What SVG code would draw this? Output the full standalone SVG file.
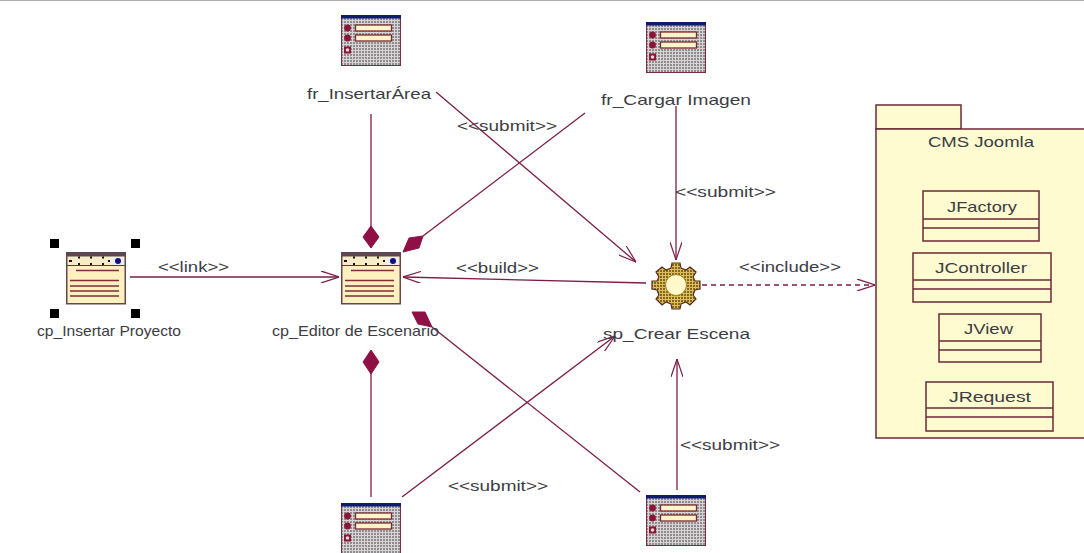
<svg xmlns="http://www.w3.org/2000/svg" width="1084" height="553" viewBox="0 0 1084 553">
<style>
text{font-family:"Liberation Sans",Arial,sans-serif;font-size:15px;fill:#3c3c44}
.c{fill:none;stroke:#7c1d45;stroke-width:1.3}
.d{stroke-dasharray:5 4}
.box{fill:#fffbd0;stroke:#6b2a35;stroke-width:1.5}
.ln{stroke:#6b2a35;stroke-width:1.5;fill:none}
.dia{fill:#8e1045;stroke:#8e1045}
.h{fill:#000}
</style>
<defs>
<pattern id="grid" width="3" height="3" patternUnits="userSpaceOnUse"><rect width="3" height="3" fill="#d8d4d4"/><rect width="2" height="2" fill="#8f8c90"/></pattern>
<pattern id="gold" width="3" height="3" patternUnits="userSpaceOnUse"><rect width="3" height="3" fill="#dcc060"/><rect width="2" height="2" fill="#86661a"/></pattern>
<marker id="open" viewBox="0 0 18 12" refX="18" refY="6" markerWidth="18" markerHeight="12" markerUnits="userSpaceOnUse" orient="auto"><path d="M0 0L18 6L0 12" fill="none" stroke="#7c1d45" stroke-width="1.2"/></marker>
<g id="form">
<rect x="0.5" y="0.5" width="59" height="50" fill="url(#grid)" stroke="#7c2a45"/>
<rect x="0" y="0" width="60" height="3.5" fill="#101a70"/>
<circle cx="6.5" cy="13" r="3.4" fill="#8a1538"/><rect x="14.500" y="10" width="36" height="6" fill="#fff4c8" stroke="#7c2a35" stroke-width="1.300"/>
<circle cx="6.500" cy="23" r="3.400" fill="#8a1538"/><rect x="14.500" y="20" width="36" height="6" fill="#fff4c8" stroke="#7c2a35" stroke-width="1.300"/>
<rect x="3" y="31.500" width="7" height="7" fill="#8a1538"/><circle cx="6.500" cy="35" r="1.800" fill="#e8d8d0"/>
</g>
<g id="page">
<rect x="0.750" y="0.750" width="58.500" height="51" fill="#fff0c0" stroke="#6b4548" stroke-width="1.500"/>
<rect x="0" y="0" width="60" height="4.500" fill="#5c4650"/>
<rect x="2" y="5" width="43" height="8" fill="#f6ecc8"/>
<rect x="45" y="5" width="13" height="8" fill="#ececf4"/>
<circle cx="52" cy="9" r="3" fill="#10107a"/>
<path d="M1 13.500H59" stroke="#7c2a35" stroke-width="1.200"/>
<path d="M3 9h3M12 5.500h2M12 12h2M24 5.500h2M24 12h2M36 5.500h2M36 12h2M42 9h2" stroke="#111" stroke-width="2"/>
<path d="M10 18.500H53M4 28.500H53M4 34H53M4 39H53M4 44H53" stroke="#7c3038" stroke-width="1.300"/>
</g>
</defs>
<rect width="1084" height="553" fill="#fff"/>
<path d="M0 0.500H1084" stroke="#b0b0b0"/>
<g id="connectors">
<path class="c" d="M371 114V228"/>
<path class="dia" d="M371 226L379 237L371 248L363 237Z"/>
<path class="c" d="M585 113L423 236"/>
<path class="dia" d="M403 252L409 238L423 236L419 248Z"/>
<path class="c" d="M371 497V372"/>
<path class="dia" d="M371 350L379 362L371 374L363 362Z"/>
<path class="c" d="M640 492L432 327"/>
<path class="dia" d="M412 312L425 312L432 327L418 324Z"/>
<path class="c" d="M130 277H339" marker-end="url(#open)"/>
<path class="c" d="M646 283L403 277" marker-end="url(#open)"/>
<path class="c" d="M436 92L636 262" marker-end="url(#open)"/>
<path class="c" d="M676 106V260" marker-end="url(#open)"/>
<path class="c" d="M402 497L615 336" marker-end="url(#open)"/>
<path class="c" d="M677 490V359" marker-end="url(#open)"/>
<path class="c d" d="M702 285H875" marker-end="url(#open)"/>
<text x="158" y="272" textLength="71" lengthAdjust="spacingAndGlyphs">&lt;&lt;link&gt;&gt;</text>
<text x="456" y="273" textLength="83" lengthAdjust="spacingAndGlyphs">&lt;&lt;build&gt;&gt;</text>
<text x="739" y="272" textLength="102" lengthAdjust="spacingAndGlyphs">&lt;&lt;include&gt;&gt;</text>
<text x="457" y="131" textLength="100" lengthAdjust="spacingAndGlyphs">&lt;&lt;submit&gt;&gt;</text>
<text x="675" y="197" textLength="101" lengthAdjust="spacingAndGlyphs">&lt;&lt;submit&gt;&gt;</text>
<text x="448" y="491" textLength="100" lengthAdjust="spacingAndGlyphs">&lt;&lt;submit&gt;&gt;</text>
<text x="680" y="450" textLength="100" lengthAdjust="spacingAndGlyphs">&lt;&lt;submit&gt;&gt;</text>
</g>
<g id="fr_InsertarArea"><use href="#form" x="341" y="15"/><text x="307" y="99" textLength="124" lengthAdjust="spacingAndGlyphs">fr_InsertarÁrea</text></g>
<g id="fr_CargarImagen"><use href="#form" x="646" y="22"/><text x="601" y="105" textLength="150" lengthAdjust="spacingAndGlyphs">fr_Cargar Imagen</text></g>
<g id="form_bottom_left"><use href="#form" x="341" y="503"/></g>
<g id="form_bottom_right"><use href="#form" x="646" y="495"/></g>
<g id="cp_InsertarProyecto">
<use href="#page" x="66" y="252"/>
<rect class="h" x="50" y="239" width="9" height="9"/><rect class="h" x="131" y="239" width="9" height="9"/>
<rect class="h" x="50" y="309" width="9" height="9"/><rect class="h" x="131" y="309" width="9" height="9"/>
<text x="37" y="336" textLength="144" lengthAdjust="spacingAndGlyphs">cp_Insertar Proyecto</text>
</g>
<g id="cp_EditorEscenario">
<use href="#page" x="341" y="252"/>
<text x="272" y="336" textLength="167" lengthAdjust="spacingAndGlyphs">cp_Editor de Escenario</text>
</g>
<g id="sp_CrearEscena">
<path d="M672 263h8l1 5 5 2 4-3 6 5-3 5 2 4 5 0v8l-5 1-2 5 3 4-6 6-4-3-5 2-1 5h-8l-1-5-5-2-4 3-6-6 3-4-2-5-5-1v-8l5 0 2-4-3-5 6-5 4 3 5-2z" fill="url(#gold)" stroke="#5a2a20" stroke-width="1.200"/>
<circle cx="676" cy="285" r="10.500" fill="#fff8c8" stroke="#a08030"/>
<text x="603" y="339" textLength="147" lengthAdjust="spacingAndGlyphs">sp_Crear Escena</text>
</g>
<g id="CMS_Joomla">
<rect class="box" x="876" y="105" width="85" height="24"/>
<rect class="box" x="876" y="129" width="210" height="309"/>
<text x="928" y="147" textLength="106" lengthAdjust="spacingAndGlyphs">CMS Joomla</text>
</g>
<g id="JFactory"><rect class="box" x="923" y="191" width="116" height="50"/><path class="ln" d="M923 219H1039M923 228H1039"/><text x="947" y="212" textLength="70" lengthAdjust="spacingAndGlyphs">JFactory</text></g>
<g id="JController"><rect class="box" x="913" y="253" width="138" height="49"/><path class="ln" d="M913 280H1051M913 289H1051"/><text x="935" y="273" textLength="92" lengthAdjust="spacingAndGlyphs">JController</text></g>
<g id="JView"><rect class="box" x="939" y="314" width="102" height="48"/><path class="ln" d="M939 341H1041M939 350H1041"/><text x="964" y="334" textLength="49" lengthAdjust="spacingAndGlyphs">JView</text></g>
<g id="JRequest"><rect class="box" x="926" y="382" width="127" height="49"/><path class="ln" d="M926 408H1053M926 417H1053"/><text x="949" y="402" textLength="82" lengthAdjust="spacingAndGlyphs">JRequest</text></g>
</svg>
